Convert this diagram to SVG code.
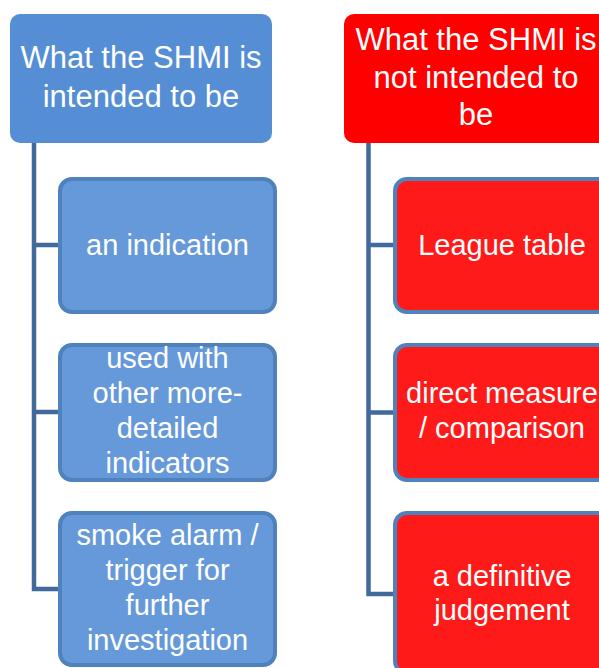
<svg xmlns="http://www.w3.org/2000/svg" width="599" height="668" viewBox="0 0 599 668">
<style>
text{font-family:"Liberation Sans",Arial,sans-serif;fill:#fff;text-anchor:middle}
.h{font-size:31px}
.c{font-size:29px}
.conn{fill:none;stroke:#41699C;stroke-width:4.5;stroke-linejoin:miter}
.cb{fill:#6699D9;stroke:#4F81BD;stroke-width:4}
.cr{fill:#FF1A1A;stroke:#4F81BD;stroke-width:4}
</style>
<rect width="599" height="668" fill="#fff"/>
<g id="connectors">
<path class="conn" d="M34,143 V589 H60 M34,245 H60 M34,412 H60"/>
<path class="conn" d="M368.5,143 V594 H395 M368.5,245 H395 M368.5,412.5 H395"/>
</g>
<g id="hdr-left">
<rect x="10" y="14" width="262" height="129" rx="10" fill="#558ED5"/>
<text class="h" x="141" y="68">What the SHMI is</text>
<text class="h" x="141" y="107">intended to be</text>
</g>
<g id="hdr-right">
<rect x="344" y="14" width="264" height="129" rx="10" fill="#FF0000"/>
<text class="h" x="476" y="50">What the SHMI is</text>
<text class="h" x="476" y="88">not intended to</text>
<text class="h" x="476" y="125">be</text>
</g>
<g id="l1">
<rect class="cb" x="60" y="179" width="215" height="133" rx="12"/>
<text class="c" x="167.5" y="255">an indication</text>
</g>
<g id="l2">
<rect class="cb" x="60" y="345" width="215" height="135" rx="12"/>
<text class="c" x="167.5" y="368">used with</text>
<text class="c" x="167.5" y="403">other more-</text>
<text class="c" x="167.5" y="438">detailed</text>
<text class="c" x="167.5" y="473">indicators</text>
</g>
<g id="l3">
<rect class="cb" x="60" y="513" width="215" height="152" rx="12"/>
<text class="c" x="167.5" y="545">smoke alarm /</text>
<text class="c" x="167.5" y="580">trigger for</text>
<text class="c" x="167.5" y="615">further</text>
<text class="c" x="167.5" y="650">investigation</text>
</g>
<g id="r1">
<rect class="cr" x="395" y="179" width="215" height="133" rx="12"/>
<text class="c" x="502" y="255">League table</text>
</g>
<g id="r2">
<rect class="cr" x="395" y="345" width="215" height="135" rx="12"/>
<text class="c" x="502" y="403">direct measure</text>
<text class="c" x="502" y="438">/ comparison</text>
</g>
<g id="r3">
<rect class="cr" x="395" y="513" width="215" height="160" rx="12"/>
<text class="c" x="502" y="586">a definitive</text>
<text class="c" x="502" y="620">judgement</text>
</g>
</svg>
